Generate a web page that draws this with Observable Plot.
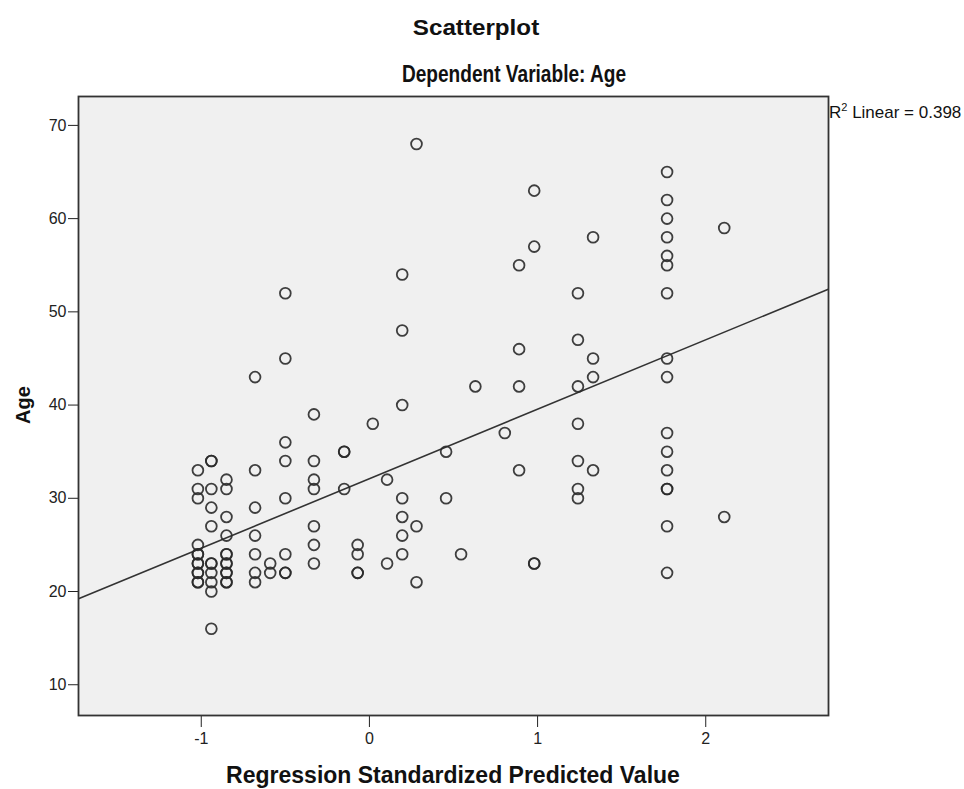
<!DOCTYPE html>
<html><head><meta charset="utf-8">
<script src="https://cdn.jsdelivr.net/npm/d3@7"></script>
<script src="https://cdn.jsdelivr.net/npm/@observablehq/plot@0.6"></script>
<style>
body{margin:0;background:#fff;font-family:"Liberation Sans",Arial,sans-serif;}
#wrap{position:relative;width:964px;height:789px;overflow:hidden;}
#chart{position:absolute;left:0;top:0;}
.t{position:absolute;width:600px;text-align:center;font-weight:bold;color:#111;white-space:nowrap;}
</style></head><body><div id="wrap">
<div id="chart"></div>
<div class="t" style="left:176px;top:15px;font-size:22px;transform:scaleX(1.1);">Scatterplot</div>
<div class="t" style="left:214px;top:61px;font-size:23px;transform:scaleX(0.83);">Dependent Variable: Age</div>
<div class="t" style="left:153px;top:762px;font-size:23px;">Regression Standardized Predicted Value</div>
<div style="position:absolute;left:3px;top:390px;width:40px;height:30px;transform:rotate(-90deg);font-weight:bold;font-size:20px;text-align:center;line-height:30px;color:#111;">Age</div>
<div id="r2" style="position:absolute;left:829px;top:101px;font-size:17px;color:#111;white-space:nowrap;">R<sup style="font-size:11px;">2</sup> Linear = 0.398</div>
</div>
<script>
// Predicted-value columns (standardized) and the ages observed at each column
const predictedColumns = [-1.02, -0.94, -0.85, -0.68, -0.59, -0.50, -0.33, -0.15, -0.07, 0.02, 0.105, 0.195, 0.28, 0.456, 0.545, 0.63, 0.805, 0.89, 0.98, 1.24, 1.33, 1.77, 2.11];
const agesByColumn = [
  [33, 31, 30, 25, 24, 24, 23, 23, 22, 22, 21, 21],
  [34, 34, 31, 29, 27, 23, 23, 22, 21, 20, 16],
  [32, 31, 28, 26, 24, 24, 23, 23, 22, 22, 21, 21],
  [43, 33, 29, 26, 24, 22, 21],
  [23, 22],
  [52, 45, 36, 34, 30, 24, 22, 22],
  [39, 34, 32, 31, 27, 25, 23],
  [35, 35, 31],
  [25, 24, 22, 22],
  [38],
  [32, 23],
  [54, 48, 40, 30, 28, 26, 24],
  [68, 27, 21],
  [35, 30],
  [24],
  [42],
  [37],
  [55, 46, 42, 33],
  [63, 57, 23, 23],
  [52, 47, 42, 38, 34, 31, 30],
  [58, 45, 43, 33],
  [65, 62, 60, 58, 56, 55, 52, 45, 43, 37, 35, 33, 31, 31, 27, 22],
  [59, 28]
];
const xTicks = [-1, 0, 1, 2];
const yTicks = [10, 20, 30, 40, 50, 60, 70];
const xDomain = [-1.73, 2.73];
const yDomain = [6.7, 73.1];
// fit line: Age = intercept + slope * predicted
const fitIntercept = 32.1;
const fitSlope = 7.45;

const points = predictedColumns.flatMap((x, i) => agesByColumn[i].map(age => ({x, age})));
const fit = xDomain.map(x => ({x, age: fitIntercept + fitSlope * x}));

const chart = Plot.plot({
  width: 964, height: 789,
  marginLeft: 78, marginRight: 136, marginTop: 96, marginBottom: 74,
  style: {fontFamily: '"Liberation Sans", Arial, sans-serif', fontSize: "16px", color: "#222", background: "transparent"},
  x: {domain: xDomain, ticks: xTicks, tickSize: 12, tickPadding: 5, label: null, tickFormat: d => String(d)},
  y: {domain: yDomain, ticks: yTicks, tickSize: 10, tickPadding: 2, label: null},
  marks: [
    Plot.frame({fill: "#f0f0f0"}),
    Plot.line(fit, {x: "x", y: "age", stroke: "#333", strokeWidth: 1.6, clip: true}),
    Plot.dot(points, {x: "x", y: "age", r: 5.4, stroke: "#2a2a2a", strokeWidth: 1.8, fill: "none", strokeOpacity: 0.9}),
    Plot.frame({stroke: "#333", strokeWidth: 1.8})
  ]
});
document.getElementById("chart").appendChild(chart);
</script>
</body></html>
